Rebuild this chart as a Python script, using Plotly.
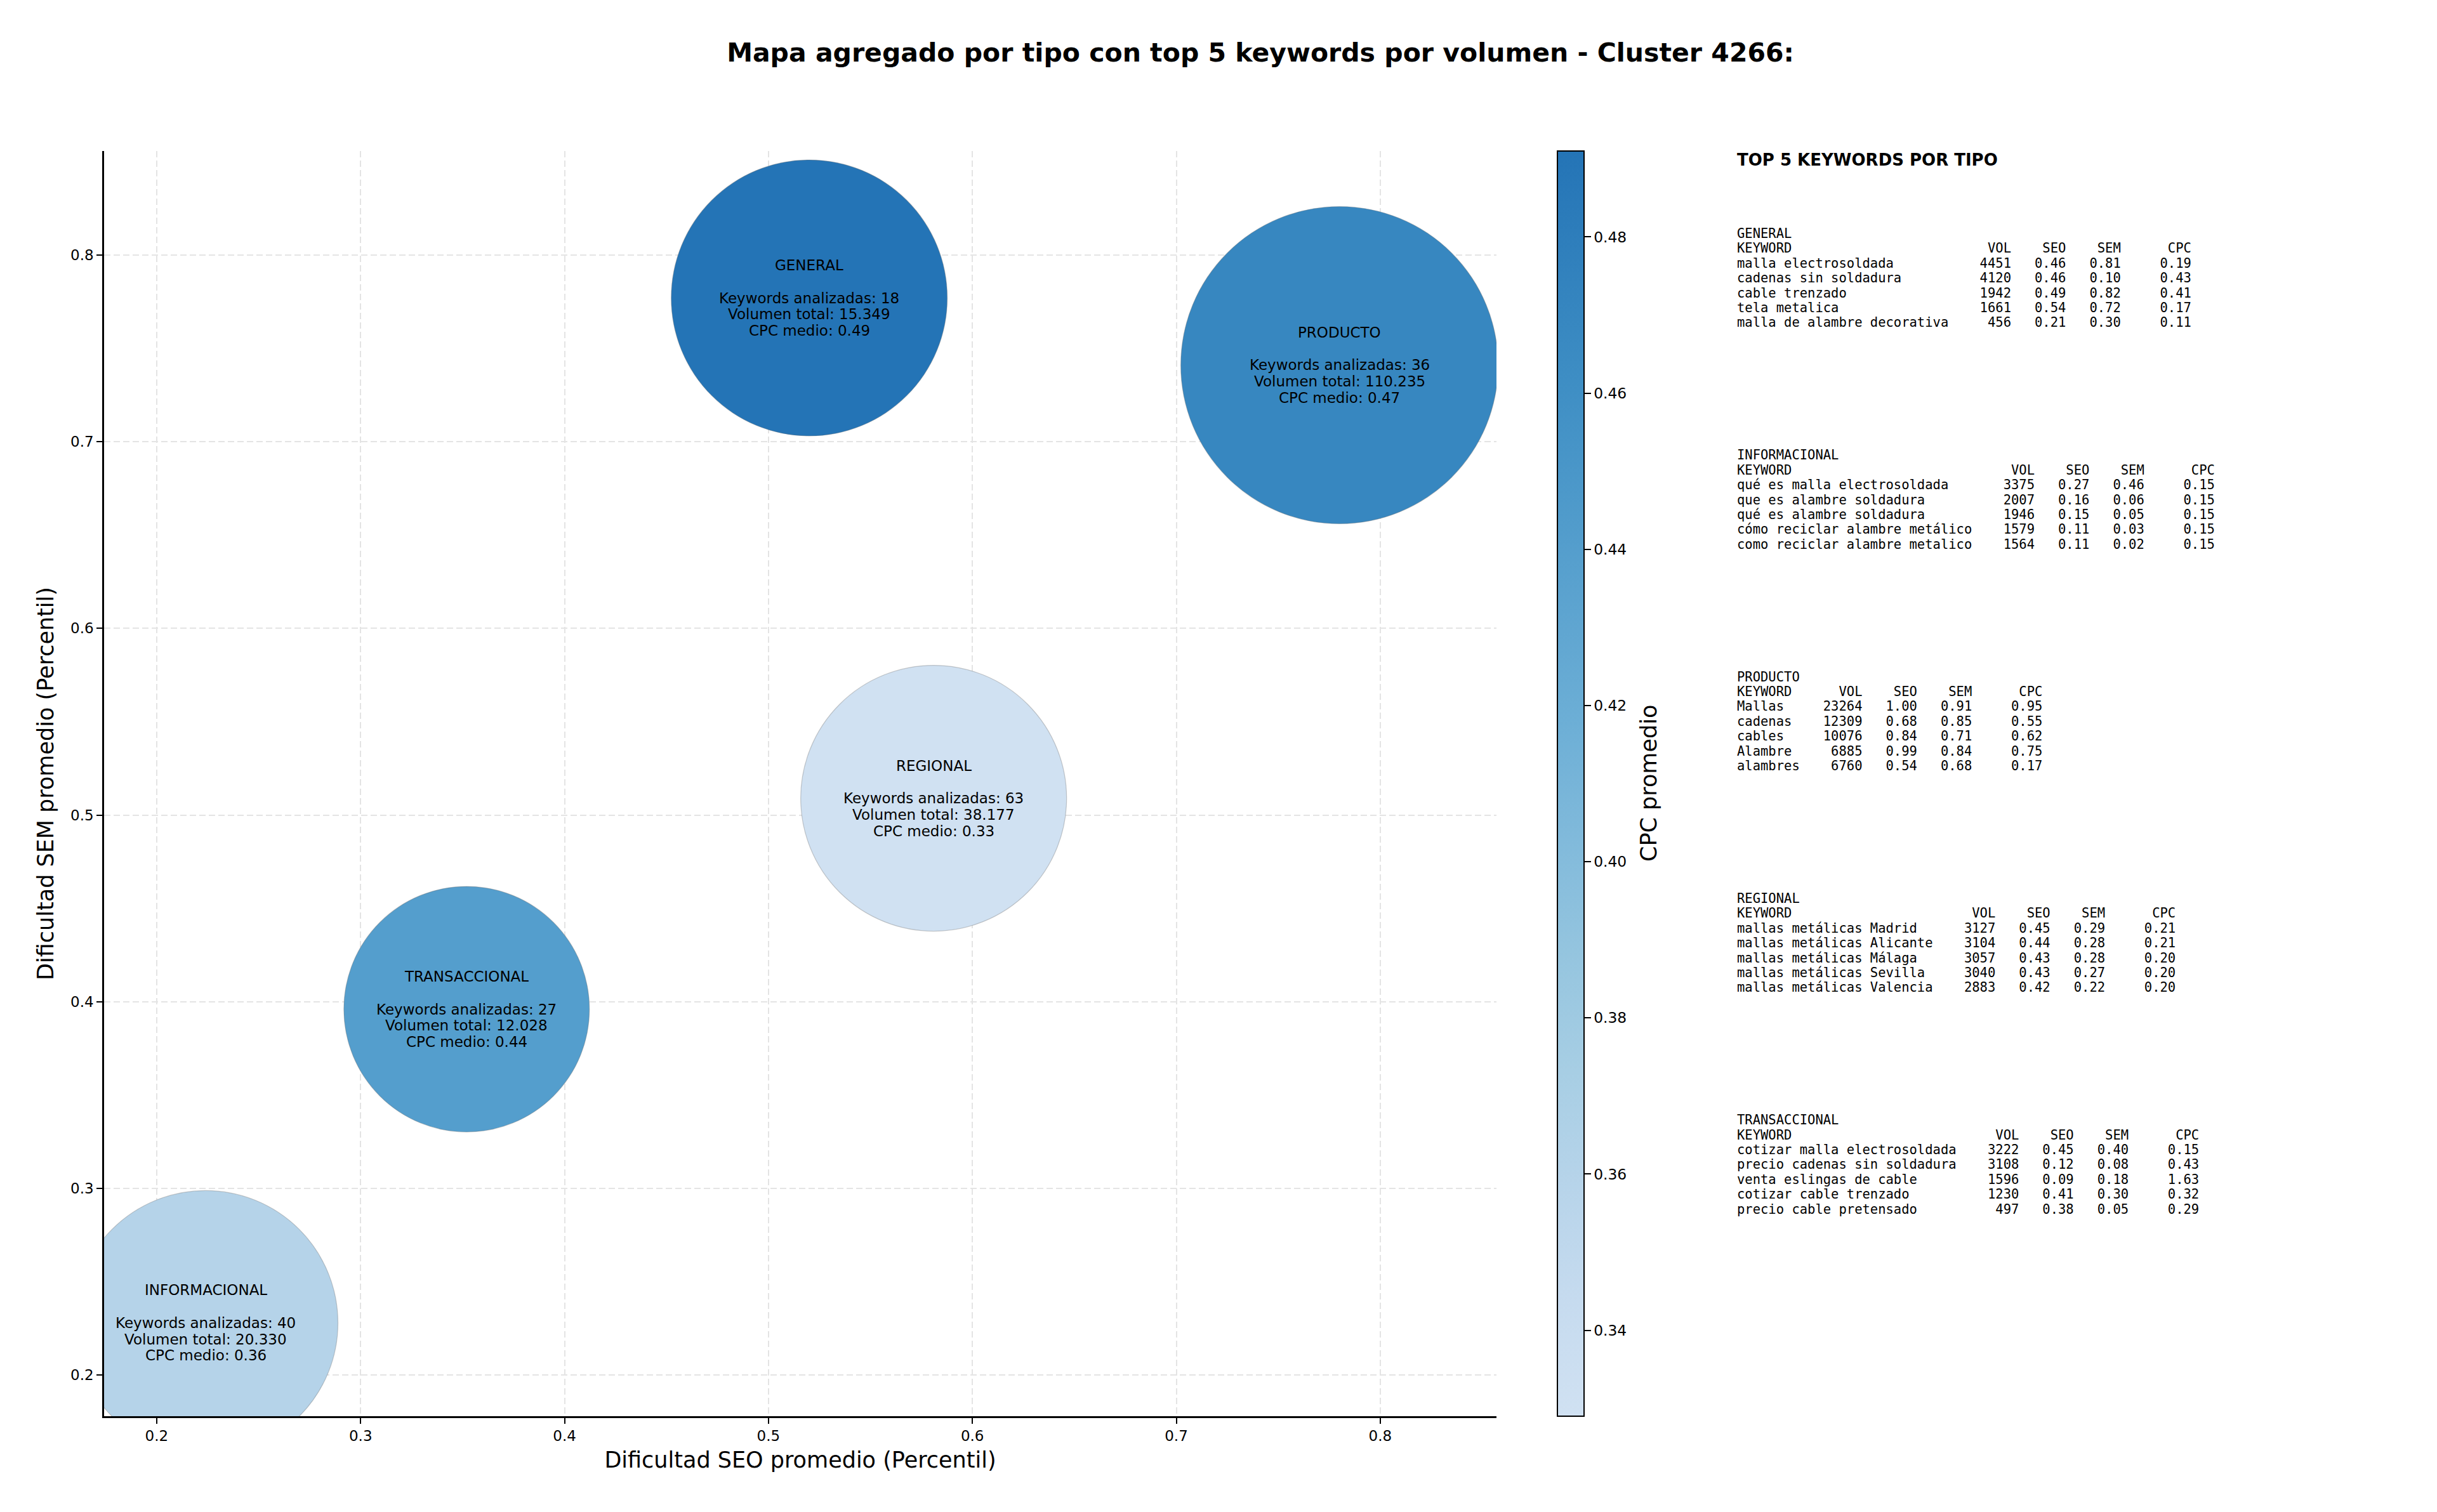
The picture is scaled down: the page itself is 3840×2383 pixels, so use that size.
import plotly.graph_objects as go

# ---------------- DATA ----------------
tipos = ["GENERAL", "INFORMACIONAL", "PRODUCTO", "REGIONAL", "TRANSACCIONAL"]
seo_promedio = [0.520, 0.224, 0.780, 0.581, 0.352]
sem_promedio = [0.777, 0.228, 0.741, 0.509, 0.396]
keywords_analizadas = [18, 40, 36, 63, 27]
volumen_total = [15349, 20330, 110235, 38177, 12028]
cpc_medio = [0.491, 0.360, 0.470, 0.329, 0.440]

general_kw = ["malla electrosoldada", "cadenas sin soldadura", "cable trenzado", "tela metalica",
              "malla de alambre decorativa"]
general_vol = [4451, 4120, 1942, 1661, 456]
general_seo = [0.46, 0.46, 0.49, 0.54, 0.21]
general_sem = [0.81, 0.10, 0.82, 0.72, 0.30]
general_cpc = [0.19, 0.43, 0.41, 0.17, 0.11]

informacional_kw = ["qué es malla electrosoldada", "que es alambre soldadura", "qué es alambre soldadura",
                    "cómo reciclar alambre metálico", "como reciclar alambre metalico"]
informacional_vol = [3375, 2007, 1946, 1579, 1564]
informacional_seo = [0.27, 0.16, 0.15, 0.11, 0.11]
informacional_sem = [0.46, 0.06, 0.05, 0.03, 0.02]
informacional_cpc = [0.15, 0.15, 0.15, 0.15, 0.15]

producto_kw = ["Mallas", "cadenas", "cables", "Alambre", "alambres"]
producto_vol = [23264, 12309, 10076, 6885, 6760]
producto_seo = [1.00, 0.68, 0.84, 0.99, 0.54]
producto_sem = [0.91, 0.85, 0.71, 0.84, 0.68]
producto_cpc = [0.95, 0.55, 0.62, 0.75, 0.17]

regional_kw = ["mallas metálicas Madrid", "mallas metálicas Alicante", "mallas metálicas Málaga",
               "mallas metálicas Sevilla", "mallas metálicas Valencia"]
regional_vol = [3127, 3104, 3057, 3040, 2883]
regional_seo = [0.45, 0.44, 0.43, 0.43, 0.42]
regional_sem = [0.29, 0.28, 0.28, 0.27, 0.22]
regional_cpc = [0.21, 0.21, 0.20, 0.20, 0.20]

transaccional_kw = ["cotizar malla electrosoldada", "precio cadenas sin soldadura", "venta eslingas de cable",
                    "cotizar cable trenzado", "precio cable pretensado"]
transaccional_vol = [3222, 3108, 1596, 1230, 497]
transaccional_seo = [0.45, 0.12, 0.09, 0.41, 0.38]
transaccional_sem = [0.40, 0.08, 0.18, 0.30, 0.05]
transaccional_cpc = [0.15, 0.43, 1.63, 0.32, 0.29]

x_ticks = [0.2, 0.3, 0.4, 0.5, 0.6, 0.7, 0.8]
y_ticks = [0.2, 0.3, 0.4, 0.5, 0.6, 0.7, 0.8]
cbar_ticks = [0.34, 0.36, 0.38, 0.40, 0.42, 0.44, 0.46, 0.48]

# ---------------- STYLE / LAYOUT ----------------
W, H = 3840, 2383
BUBBLE_DIAMETER_PX = [435, 417, 500, 419, 387]  # marker diameters (style)
AX_L, AX_R, AX_T, AX_B = 164, 2358, 238, 2232
X_RANGE = [0.1742, 0.857]
Y_RANGE = [0.178, 0.8557]


def fx(px):
    return px / W


def fy(py):
    return 1 - py / H


# matplotlib "Blues" anchors, used over the sub-range 0.2 .. 0.75
BLUES = [(0.0, (247, 251, 255)), (0.125, (222, 235, 247)), (0.25, (198, 219, 239)),
         (0.375, (158, 202, 225)), (0.5, (107, 174, 214)), (0.625, (66, 146, 198)),
         (0.75, (33, 113, 181)), (0.875, (8, 81, 156)), (1.0, (8, 48, 107))]


def blues(t):
    for (a, ca), (b, cb) in zip(BLUES[:-1], BLUES[1:]):
        if a <= t <= b:
            f = (t - a) / (b - a)
            c = [round(ca[i] + (cb[i] - ca[i]) * f) for i in range(3)]
            return f"rgb({c[0]},{c[1]},{c[2]})"
    return "rgb(8,48,107)"


LO, HI = 0.2, 0.74
N = 12
colorscale = [[i / (N - 1), blues(LO + (HI - LO) * i / (N - 1))] for i in range(N)]

FONT = "DejaVu Sans"
MONO = "DejaVu Sans Mono"

fig = go.Figure()
fig.add_trace(go.Scatter(
    x=seo_promedio, y=sem_promedio, mode="markers",
    marker=dict(
        size=BUBBLE_DIAMETER_PX, sizemode="diameter",
        color=cpc_medio, colorscale=colorscale, opacity=1.0,
        line=dict(color="rgba(110,110,110,0.35)", width=1.2),
        colorbar=dict(
            x=fx(2454), xanchor="left", xpad=0, xref="paper",
            y=fy((AX_T + AX_B) / 2), yanchor="middle", ypad=0,
            len=(AX_B - AX_T) / H, lenmode="fraction",
            thickness=42, thicknessmode="pixels",
            outlinewidth=2, outlinecolor="black",
            tickvals=cbar_ticks, tickformat=".2f",
            ticks="outside", ticklen=10, tickwidth=2, tickcolor="black",
            tickfont=dict(family=FONT, size=23.4, color="black"),
        ),
    ),
    cliponaxis=True, hoverinfo="skip", showlegend=False,
))

annotations = []

# colorbar title
annotations.append(dict(x=fx(2598), y=fy((AX_T + AX_B) / 2), xref="paper", yref="paper",
                        xanchor="center", yanchor="middle", textangle=-90, showarrow=False,
                        text="CPC promedio", font=dict(family=FONT, size=35, color="black")))

# bubble labels (one annotation per line)
LABEL_STEP = 25.7
for i, tipo in enumerate(tipos):
    lines = [tipo, "",
             f"Keywords analizadas: {keywords_analizadas[i]}",
             "Volumen total: " + f"{volumen_total[i]:,}".replace(",", "."),
             f"CPC medio: {cpc_medio[i]:.2f}"]
    for k, txt in enumerate(lines):
        if not txt:
            continue
        annotations.append(dict(
            x=seo_promedio[i], y=sem_promedio[i], xref="x", yref="y",
            yshift=(2 - k) * LABEL_STEP, text=txt, showarrow=False,
            xanchor="center", yanchor="middle",
            font=dict(family=FONT, size=23, color="black")))

# right panel
annotations.append(dict(x=fx(2735), y=fy(252), xref="paper", yref="paper",
                        xanchor="left", yanchor="middle", showarrow=False,
                        text="<b>TOP 5 KEYWORDS POR TIPO</b>",
                        font=dict(family=FONT, size=26, color="black")))

blocks = [
    ("GENERAL", general_kw, general_vol, general_seo, general_sem, general_cpc),
    ("INFORMACIONAL", informacional_kw, informacional_vol, informacional_seo, informacional_sem, informacional_cpc),
    ("PRODUCTO", producto_kw, producto_vol, producto_seo, producto_sem, producto_cpc),
    ("REGIONAL", regional_kw, regional_vol, regional_seo, regional_sem, regional_cpc),
    ("TRANSACCIONAL", transaccional_kw, transaccional_vol, transaccional_seo, transaccional_sem, transaccional_cpc),
]
BLOCK_TOP, BLOCK_STEP, LINE_STEP = 368, 349.3, 23.4
for b, (tipo, kws, vols, seos, sems, cpcs) in enumerate(blocks):
    w = max(len(k) for k in kws)
    lines = [tipo, "KEYWORD".ljust(w) + "VOL".rjust(8) + "SEO".rjust(7) + "SEM".rjust(7) + "CPC".rjust(9)]
    for k, v, s, m, c in zip(kws, vols, seos, sems, cpcs):
        lines.append(f"{k:<{w}}{v:>8}{s:>7.2f}{m:>7.2f}{c:>9.2f}")
    for li, line in enumerate(lines):
        annotations.append(dict(
            x=fx(2735), y=fy(BLOCK_TOP + b * BLOCK_STEP + li * LINE_STEP),
            xref="paper", yref="paper", xanchor="left", yanchor="middle",
            showarrow=False, text=line.replace(" ", "\u00a0"),
            font=dict(family=MONO, size=20.5, color="black")))

axis_common = dict(
    showgrid=True, gridcolor="#e4e4e4", gridwidth=1.5, griddash="10px,5px",
    zeroline=False, showline=True, linecolor="black", linewidth=2.5,
    ticks="outside", ticklen=9, tickwidth=2, tickcolor="black",
    tickfont=dict(family=FONT, size=23, color="black"), mirror=False,
    automargin=False,
)

fig.update_layout(
    width=W, height=H, margin=dict(l=0, r=0, t=0, b=0),
    paper_bgcolor="white", plot_bgcolor="white",
    xaxis=dict(domain=[fx(AX_L), fx(AX_R)], range=X_RANGE, tickvals=x_ticks,
               ticktext=[f"{v:.1f}" for v in x_ticks],
               title=dict(text="Dificultad SEO promedio (Percentil)", standoff=14,
                          font=dict(family=FONT, size=35, color="black")),
               **axis_common),
    yaxis=dict(domain=[fy(AX_B), fy(AX_T)], range=Y_RANGE, tickvals=y_ticks,
               ticktext=[f"{v:.1f}" for v in y_ticks],
               title=dict(text="Dificultad SEM promedio (Percentil)", standoff=16,
                          font=dict(family=FONT, size=35, color="black")),
               **axis_common),
    title=dict(text="<b>Mapa agregado por tipo con top 5 keywords por volumen - Cluster 4266:</b>",
               x=fx(1986), y=fy(83), xref="paper", yref="paper",
               xanchor="center", yanchor="middle",
               font=dict(family=FONT, size=41, color="black")),
    annotations=annotations,
    font=dict(family=FONT, color="black"),
)

fig.write_html("out.html")
